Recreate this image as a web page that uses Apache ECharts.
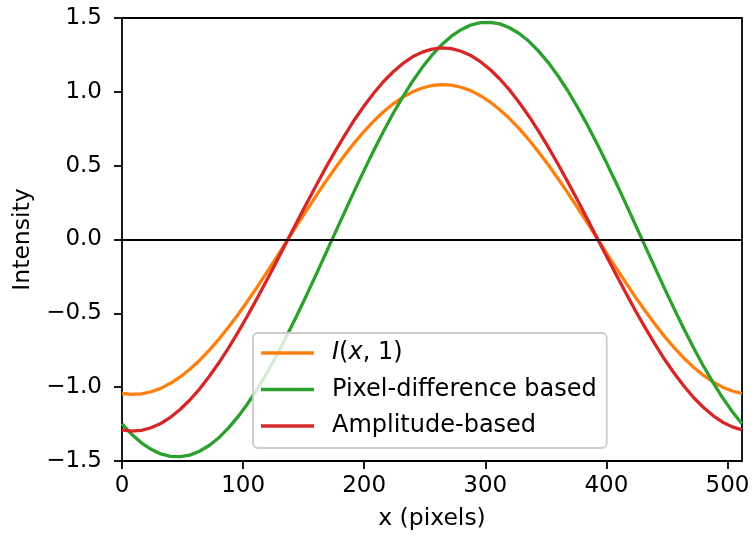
<!DOCTYPE html>
<html>
<head>
<meta charset="utf-8">
<script src="https://cdn.jsdelivr.net/npm/echarts@6/dist/echarts.min.js"></script>
<style>html,body{margin:0;padding:0;background:#fff;}#chart{width:753px;height:537px;}</style>
</head>
<body>
<div id="chart"></div>
<script>
// x positions (pixels)
var xValues = [0,8,16,24,32,40,48,56,64,72,80,88,96,104,112,120,128,136,144,152,160,168,176,184,192,200,208,216,224,232,240,248,256,264,272,280,288,296,304,312,320,328,336,344,352,360,368,376,384,392,400,408,416,424,432,440,448,456,464,472,480,488,496,504,512];
// I(x,1)
var intensityI = [-1.043,-1.049,-1.045,-1.031,-1.008,-0.974,-0.931,-0.879,-0.819,-0.751,-0.675,-0.593,-0.506,-0.413,-0.317,-0.217,-0.116,-0.013,0.090,0.192,0.292,0.390,0.483,0.572,0.656,0.733,0.803,0.865,0.919,0.964,1.000,1.026,1.043,1.049,1.045,1.031,1.008,0.974,0.931,0.879,0.819,0.751,0.675,0.593,0.506,0.413,0.317,0.217,0.116,0.013,-0.090,-0.192,-0.292,-0.390,-0.483,-0.572,-0.656,-0.733,-0.803,-0.865,-0.919,-0.964,-1.000,-1.026,-1.043];
// Pixel-difference based
var pixelDiff = [-1.248,-1.319,-1.377,-1.421,-1.452,-1.469,-1.471,-1.460,-1.434,-1.395,-1.342,-1.276,-1.198,-1.109,-1.009,-0.898,-0.780,-0.654,-0.521,-0.384,-0.243,-0.099,0.045,0.189,0.331,0.470,0.605,0.733,0.855,0.968,1.072,1.166,1.248,1.319,1.377,1.421,1.452,1.469,1.471,1.460,1.434,1.395,1.342,1.276,1.198,1.109,1.009,0.898,0.780,0.654,0.521,0.384,0.243,0.099,-0.045,-0.189,-0.331,-0.470,-0.605,-0.733,-0.855,-0.968,-1.072,-1.166,-1.248];
// Amplitude-based
var amplitude = [-1.289,-1.297,-1.292,-1.275,-1.246,-1.204,-1.151,-1.087,-1.013,-0.928,-0.835,-0.734,-0.625,-0.511,-0.392,-0.269,-0.143,-0.016,0.111,0.237,0.361,0.482,0.597,0.707,0.811,0.906,0.992,1.070,1.136,1.192,1.237,1.269,1.289,1.297,1.292,1.275,1.246,1.204,1.151,1.087,1.013,0.928,0.835,0.734,0.625,0.511,0.392,0.269,0.143,0.016,-0.111,-0.237,-0.361,-0.482,-0.597,-0.707,-0.811,-0.906,-0.992,-1.070,-1.136,-1.192,-1.237,-1.269,-1.289];

var seriesNames = ['I(x, 1)', 'Pixel-difference based', 'Amplitude-based'];
var seriesColors = ['#ff7f0e', '#2ca02c', '#d62728'];
var xTicks = [0,100,200,300,400,500];
var yTicks = [-1.5,-1.0,-0.5,0.0,0.5,1.0,1.5];

function pairs(ys){ return xValues.map(function(x,i){ return [x, ys[i]]; }); }

var FONT = 'DejaVu Sans';
var chart = echarts.init(document.getElementById('chart'), null, {renderer:'canvas'});
var seriesData = [intensityI, pixelDiff, amplitude];
var series = seriesData.map(function(d, i){
  var s = {
    name: seriesNames[i], type: 'line', data: pairs(d), smooth: false,
    showSymbol: false, symbol: 'none',
    lineStyle: {color: seriesColors[i], width: 3.3, join: 'round', cap: 'butt'},
    itemStyle: {color: seriesColors[i]},
    animation: false, z: 3
  };
  if (i === 0) {
    s.markLine = {
      silent: true, symbol: 'none', label: {show: false},
      lineStyle: {color: '#000', type: 'solid', width: 1.8},
      data: [{yAxis: 0}], animation: false
    };
  }
  return s;
});

chart.setOption({
  backgroundColor: '#fff',
  animation: false,
  textStyle: {fontFamily: FONT},
  grid: {left: 122, right: 11, top: 18, bottom: 76, show: true, borderColor: '#000', borderWidth: 1.8, backgroundColor: 'transparent'},
  legend: {
    orient: 'vertical', left: 253, top: 333,
    data: seriesNames,
    icon: 'rect', itemWidth: 53, itemHeight: 3.3, itemGap: 10.5,
    padding: [7, 10, 9, 8],
    backgroundColor: 'rgba(255,255,255,0.8)',
    borderColor: '#cccccc', borderWidth: 1.8, borderRadius: 5,
    formatter: function(name){
      if (name === 'I(x, 1)') return '{it|I}({it|x}, 1)';
      return name;
    },
    textStyle: {
      fontFamily: FONT, fontSize: 24, color: '#000', lineHeight: 26, padding: [0,0,0,13],
      rich: {it: {fontFamily: FONT, fontStyle: 'italic', fontSize: 24, color: '#000', lineHeight: 26}}
    }
  },
  xAxis: {
    type: 'value', min: 0, max: 512,
    name: 'x (pixels)', nameLocation: 'middle', nameGap: 46,
    nameTextStyle: {fontFamily: FONT, fontSize: 23.5, color: '#000'},
    axisLine: {show: false, onZero: false},
    splitLine: {show: false},
    axisTick: {show: true, length: 8, customValues: xTicks, lineStyle: {color: '#000', width: 1.8}},
    axisLabel: {customValues: xTicks, margin: 14, fontFamily: FONT, fontSize: 23, color: '#000'}
  },
  yAxis: {
    type: 'value', min: -1.5, max: 1.5, interval: 0.5,
    name: 'Intensity', nameLocation: 'middle', nameGap: 86, nameRotate: 90,
    nameTextStyle: {fontFamily: FONT, fontSize: 23.5, color: '#000'},
    axisLine: {show: false, onZero: false},
    splitLine: {show: false},
    axisTick: {show: true, length: 8, customValues: yTicks, lineStyle: {color: '#000', width: 1.8}},
    axisLabel: {
      customValues: yTicks, margin: 20, fontFamily: FONT, fontSize: 23, color: '#000',
      formatter: function(v){ return Number(v).toFixed(1).replace('-', '\u2212'); }
    }
  },
  series: series
});
</script>
</body>
</html>
